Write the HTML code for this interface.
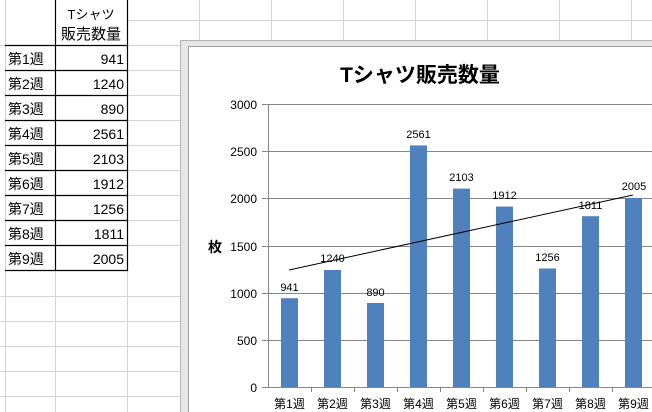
<!DOCTYPE html>
<html><head><meta charset="utf-8"><style>
html,body{margin:0;padding:0;background:#fff;}
svg{display:block;font-family:"Liberation Sans","Noto Sans CJK JP",sans-serif;}
</style></head><body>
<svg width="652" height="412" viewBox="0 0 652 412" xmlns="http://www.w3.org/2000/svg">
<rect width="652" height="412" fill="#fff"/>
<!-- sheet grid -->
<g stroke="#d4d4d4" stroke-width="1">
<line x1="5.5" y1="0" x2="5.5" y2="412"/>
<line x1="55.5" y1="270" x2="55.5" y2="412"/>
<line x1="127.5" y1="270" x2="127.5" y2="412"/>
<line x1="199.5" y1="0" x2="199.5" y2="45"/>
<line x1="271.5" y1="0" x2="271.5" y2="45"/>
<line x1="343.5" y1="0" x2="343.5" y2="45"/>
<line x1="415.5" y1="0" x2="415.5" y2="45"/>
<line x1="487.5" y1="0" x2="487.5" y2="45"/>
<line x1="559.5" y1="0" x2="559.5" y2="45"/>
<line x1="631.5" y1="0" x2="631.5" y2="45"/>
<line x1="127" y1="20.5" x2="652" y2="20.5"/>
<line x1="0" y1="45.5" x2="182" y2="45.5"/>
<line x1="127" y1="70.5" x2="182" y2="70.5"/>
<line x1="127" y1="95.5" x2="182" y2="95.5"/>
<line x1="127" y1="120.5" x2="182" y2="120.5"/>
<line x1="127" y1="145.5" x2="182" y2="145.5"/>
<line x1="127" y1="170.5" x2="182" y2="170.5"/>
<line x1="127" y1="195.5" x2="182" y2="195.5"/>
<line x1="127" y1="220.5" x2="182" y2="220.5"/>
<line x1="127" y1="245.5" x2="182" y2="245.5"/>
<line x1="0" y1="296.5" x2="182" y2="296.5"/>
<line x1="0" y1="321.5" x2="182" y2="321.5"/>
<line x1="0" y1="346.5" x2="182" y2="346.5"/>
<line x1="0" y1="371.5" x2="182" y2="371.5"/>
<line x1="0" y1="396.5" x2="182" y2="396.5"/>
</g>
<!-- table borders -->
<g stroke="#000" stroke-width="1.2" fill="none">
<line x1="55.5" y1="0" x2="55.5" y2="271"/>
<line x1="127.5" y1="0" x2="127.5" y2="271"/>
<line x1="5" y1="45.5" x2="128" y2="45.5"/>
<line x1="5" y1="70.5" x2="128" y2="70.5"/>
<line x1="5" y1="95.5" x2="128" y2="95.5"/>
<line x1="5" y1="120.5" x2="128" y2="120.5"/>
<line x1="5" y1="145.5" x2="128" y2="145.5"/>
<line x1="5" y1="170.5" x2="128" y2="170.5"/>
<line x1="5" y1="195.5" x2="128" y2="195.5"/>
<line x1="5" y1="220.5" x2="128" y2="220.5"/>
<line x1="5" y1="245.5" x2="128" y2="245.5"/>
<line x1="5" y1="270.5" x2="128" y2="270.5"/>
</g>
<g font-size="14" fill="#000">
<text x="91" y="19" text-anchor="middle" font-size="13">Tシャツ</text>
<text x="91" y="39" text-anchor="middle" font-size="15">販売数量</text>
<text x="8" y="64">第1週</text><text x="124" y="64" text-anchor="end">941</text>
<text x="8" y="89">第2週</text><text x="124" y="89" text-anchor="end">1240</text>
<text x="8" y="114">第3週</text><text x="124" y="114" text-anchor="end">890</text>
<text x="8" y="139">第4週</text><text x="124" y="139" text-anchor="end">2561</text>
<text x="8" y="164">第5週</text><text x="124" y="164" text-anchor="end">2103</text>
<text x="8" y="189">第6週</text><text x="124" y="189" text-anchor="end">1912</text>
<text x="8" y="214">第7週</text><text x="124" y="214" text-anchor="end">1256</text>
<text x="8" y="239">第8週</text><text x="124" y="239" text-anchor="end">1811</text>
<text x="8" y="264">第9週</text><text x="124" y="264" text-anchor="end">2005</text>
</g>
<!-- chart frame -->
<rect x="180.5" y="40.5" width="480" height="380" fill="#e6e6e6" stroke="#b4b4b4"/>
<rect x="188.5" y="46.5" width="470" height="370" fill="#fff" stroke="#a0a0a0"/>
<text x="420" y="82" text-anchor="middle" font-size="21" font-weight="bold">Tシャツ販売数量</text>
<!-- gridlines -->
<g stroke="#878787" stroke-width="1">
<line x1="262" y1="104.5" x2="652" y2="104.5"/>
<line x1="262" y1="151.5" x2="652" y2="151.5"/>
<line x1="262" y1="198.5" x2="652" y2="198.5"/>
<line x1="262" y1="246.5" x2="652" y2="246.5"/>
<line x1="262" y1="293.5" x2="652" y2="293.5"/>
<line x1="262" y1="340.5" x2="652" y2="340.5"/>
<line x1="262" y1="387.5" x2="652" y2="387.5"/>
<line x1="268.5" y1="104" x2="268.5" y2="387"/>
<line x1="311.5" y1="387" x2="311.5" y2="392"/>
<line x1="354.5" y1="387" x2="354.5" y2="392"/>
<line x1="397.5" y1="387" x2="397.5" y2="392"/>
<line x1="440.5" y1="387" x2="440.5" y2="392"/>
<line x1="483.5" y1="387" x2="483.5" y2="392"/>
<line x1="526.5" y1="387" x2="526.5" y2="392"/>
<line x1="569.5" y1="387" x2="569.5" y2="392"/>
<line x1="612.5" y1="387" x2="612.5" y2="392"/>
</g>
<g font-size="12" text-anchor="end">
<text x="257" y="109">3000</text><text x="257" y="156">2500</text><text x="257" y="203">2000</text>
<text x="257" y="251">1500</text><text x="257" y="298">1000</text><text x="257" y="345">500</text><text x="257" y="392">0</text>
</g>
<text x="208" y="252" font-size="14" font-weight="bold">枚</text>
<!-- bars -->
<g fill="#4f81bd">
<rect x="281" y="298.2" width="17" height="88.8"/>
<rect x="324" y="270" width="17" height="117"/>
<rect x="367" y="303" width="17" height="84"/>
<rect x="410" y="145.4" width="17" height="241.6"/>
<rect x="453" y="188.6" width="17" height="198.4"/>
<rect x="496" y="206.6" width="17" height="180.4"/>
<rect x="539" y="268.5" width="17" height="118.5"/>
<rect x="582" y="216.2" width="17" height="170.8"/>
<rect x="625" y="197.9" width="17" height="189.1"/>
</g>
<g font-size="11" text-anchor="middle">
<text x="289.5" y="291">941</text><text x="332.5" y="262">1240</text><text x="375.5" y="296">890</text>
<text x="418.5" y="138">2561</text><text x="461.5" y="181">2103</text><text x="504.5" y="199">1912</text>
<text x="547.5" y="261">1256</text><text x="590.5" y="209">1811</text><text x="634" y="190">2005</text>
</g>
<line x1="289" y1="270" x2="633" y2="195" stroke="#000" stroke-width="1"/>
<g font-size="12" text-anchor="middle">
<text x="289.5" y="408">第1週</text><text x="332.5" y="408">第2週</text><text x="375.5" y="408">第3週</text>
<text x="418.5" y="408">第4週</text><text x="461.5" y="408">第5週</text><text x="504.5" y="408">第6週</text>
<text x="547.5" y="408">第7週</text><text x="590.5" y="408">第8週</text><text x="633.5" y="408">第9週</text>
</g>
</svg>
</body></html>
